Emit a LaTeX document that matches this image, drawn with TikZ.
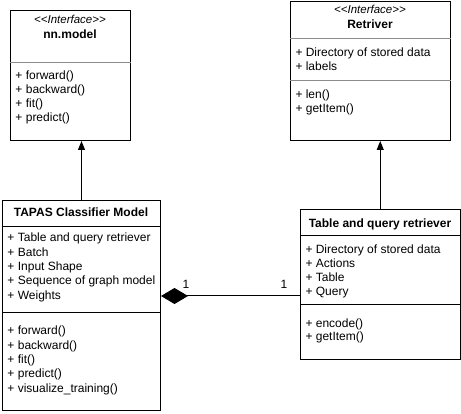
\documentclass[tikz,border=0pt]{standalone}
\usepackage{fontspec}
\setmainfont{Liberation Sans}
\usetikzlibrary{arrows.meta}

\begin{document}
\begin{tikzpicture}[x=1pt, y=-1pt, line width=1pt,
    classbox/.style={draw, anchor=north west, inner sep=0pt},
    divider/.style={draw=black!45},
    member/.style={anchor=base west, inner sep=0pt, font=\fontsize{12}{14}\selectfont},
    classname/.style={anchor=base, inner sep=0pt, font=\bfseries\fontsize{12}{14}\selectfont},
    stereo/.style={anchor=base, inner sep=0pt, font=\itshape\fontsize{11.5}{13}\selectfont},
    inherit/.style={-{Triangle[length=9pt,width=7pt]}},
    compose/.style={{Diamond[length=27pt,width=16pt]}-}]
    \useasboundingbox (0,0) rectangle (461,414);

    % nn.model
    \node[classbox, minimum width=120pt, minimum height=130pt] (nnmodel) at (10,10) {};
    \node[stereo] (nnmodel-st) at (70,24) {{<}{<}Interface{>}{>}};
    \node[classname] (nnmodel-name) at (70,39) {nn.model};
    \draw[divider] (nnmodel.west |- 0,63) -- (nnmodel.east |- 0,63);
    \foreach \txt [count=\i] in {forward(), backward(), fit(), predict()}
        \node[member] (nnmodel-op\i) at (15,{80+14*(\i-1)}) {+ \txt};

    % Retriver
    \node[classbox, minimum width=160pt, minimum height=139pt] (retriver) at (290,1) {};
    \node[stereo] (retriver-st) at (370,13.5) {{<}{<}Interface{>}{>}};
    \node[classname] (retriver-name) at (370,29) {Retriver};
    \draw[divider] (retriver.west |- 0,39) -- (retriver.east |- 0,39);
    \foreach \txt [count=\i] in {Directory of stored data, labels}
        \node[member] (retriver-at\i) at (295,{57+14*(\i-1)}) {+ \txt};
    \draw[divider] (retriver.west |- 0,81) -- (retriver.east |- 0,81);
    \foreach \txt [count=\i] in {len(), getItem()}
        \node[member] (retriver-op\i) at (295,{99+14*(\i-1)}) {+ \txt};

    % TAPAS Classifier Model
    \node[classbox, minimum width=158pt, minimum height=210pt] (tapas) at (2,200) {};
    \node[classname] (tapas-name) at (81,217) {TAPAS Classifier Model};
    \draw (tapas.west |- 0,227) -- (tapas.east |- 0,227);
    \foreach \txt [count=\i] in {Table and query retriever, Batch, Input Shape,
            Sequence of graph model, Weights}
        \node[member] (tapas-at\i) at (7,{242+14.3*(\i-1)}) {+ \txt};
    \draw (tapas.west |- 0,313) -- (tapas.east |- 0,313);
    \foreach \txt [count=\i] in {forward(), backward(), fit(), predict(),
            visualize\_training()}
        \node[member] (tapas-op\i) at (7,{335+14.3*(\i-1)}) {+ \txt};

    % Table and query retriever
    \node[classbox, minimum width=159.5pt, minimum height=150pt] (tq) at (300,209.5) {};
    \node[classname] (tq-name) at (380,228) {Table and query retriever};
    \draw (tq.west |- 0,236) -- (tq.east |- 0,236);
    \foreach \txt [count=\i] in {Directory of stored data, Actions, Table, Query}
        \node[member] (tq-at\i) at (305,{254+13.9*(\i-1)}) {+ \txt};
    \draw (tq.west |- 0,305) -- (tq.east |- 0,305);
    \foreach \txt [count=\i] in {encode(), getItem()}
        \node[member] (tq-op\i) at (305,{327+13.9*(\i-1)}) {+ \txt};

    % connectors
    \draw[inherit] (tapas.north) -- (tapas.north |- nnmodel.south);
    \draw[inherit] (tq.north) -- (tq.north |- retriver.south);
    \draw[compose] (tapas.east |- 0,296) -- (tq.west |- 0,296);
    \node[member] (mult-tapas) at (182,289) {1};
    \node[member] (mult-tq) at (280,289) {1};
\end{tikzpicture}
\end{document}
